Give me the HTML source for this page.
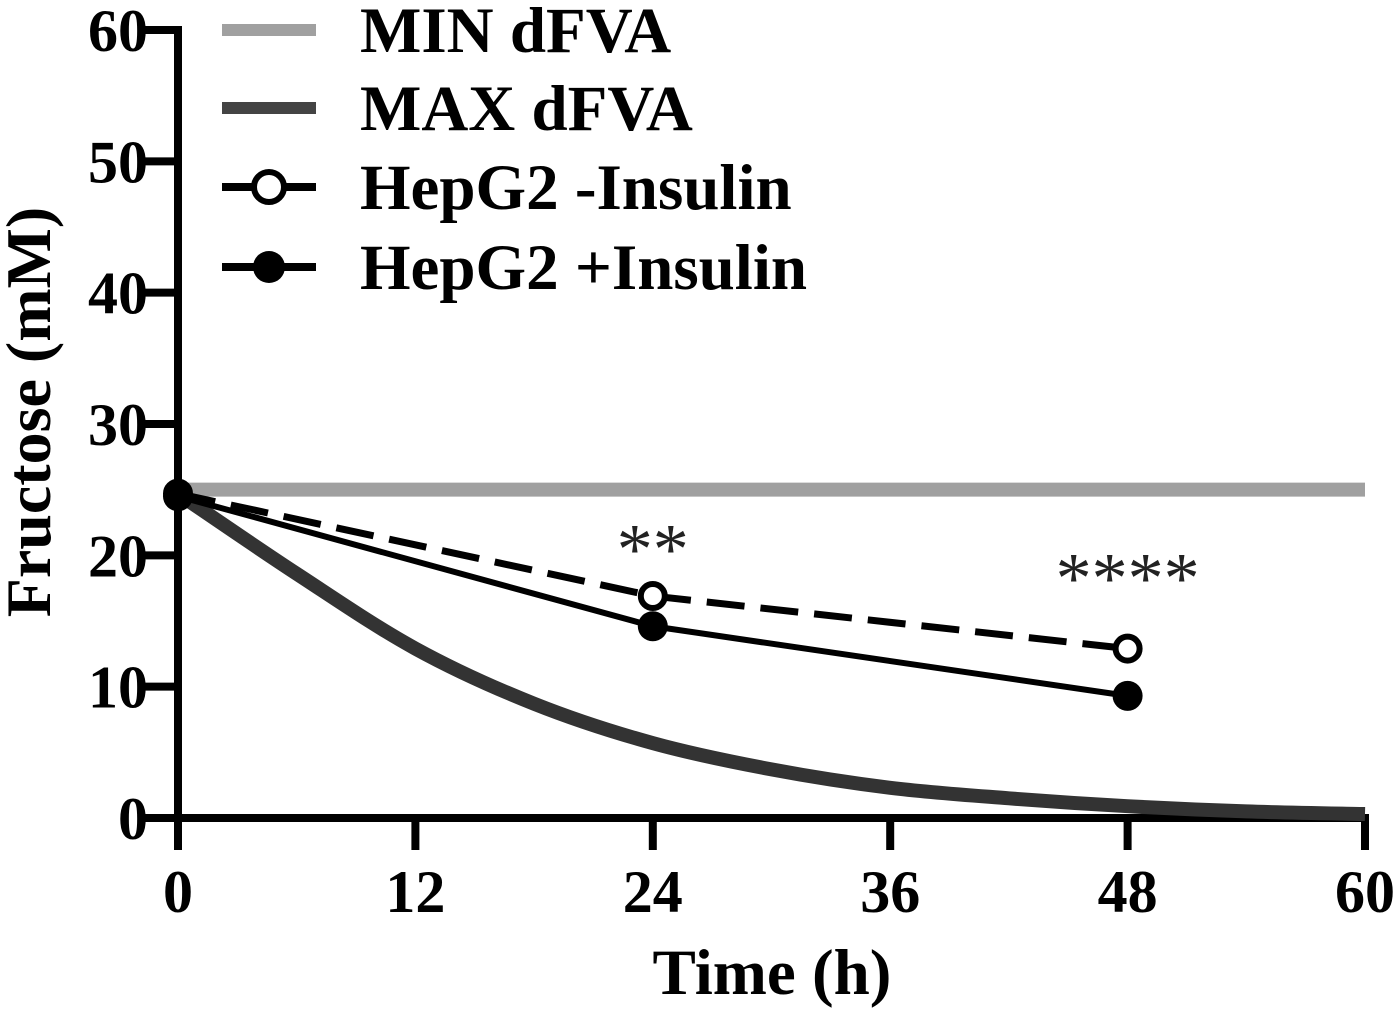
<!DOCTYPE html>
<html><head><meta charset="utf-8"><style>
html,body{margin:0;padding:0;background:#fff;}
svg{display:block;font-family:"Liberation Serif",serif;}
</style></head><body>
<svg id="chart" width="1400" height="1019" viewBox="0 0 1400 1019"></svg>
<script>
const xTicks=[0,12,24,36,48,60];
const yTicks=[0,10,20,30,40,50,60];
const minTimes=[0,60];
const minVals=[25,25];
const maxTimes=[0,6,12,18,24,30,36,42,48,54,60];
const maxVals=[24.7,18.6,12.9,8.7,5.7,3.7,2.3,1.5,0.9,0.5,0.3];
const hepTimes=[0,24,48];
const minusIns=[24.7,16.9,12.9];
const plusIns=[24.5,14.6,9.3];
const legendLabels=["MIN dFVA","MAX dFVA","HepG2 -Insulin","HepG2 +Insulin"];
const sigLabels=["**","****"];
const sigTimes=[24,48];
const sigVals=[18.6,16.4];

const NS="http://www.w3.org/2000/svg";
const svg=document.getElementById('chart');
const X=t=>178+t*(1365-178)/60;
const Y=v=>818-v*(818-30)/60;
function mk(tag,attrs,parent){const e=document.createElementNS(NS,tag);for(const k in attrs)e.setAttribute(k,attrs[k]);(parent||svg).appendChild(e);return e;}
function pts(ts,vs){return ts.map((t,i)=>X(t)+','+Y(vs[i])).join(' ');}

let e=mk('line',{x1:178,y1:26,x2:178,y2:850,stroke:'#000','stroke-width':8});


e=mk('line',{x1:174,y1:818,x2:1369,y2:818,stroke:'#000','stroke-width':8});


yTicks.forEach(v=>{
  let t=mk('line',{x1:145,y1:Y(v),x2:178,y2:Y(v),stroke:'#000','stroke-width':8});
  
  
  let l=mk('text',{x:148,y:Y(v)+21,'text-anchor':'end','font-size':60,'font-weight':'bold'});
  l.textContent=v;
  
  
});
xTicks.forEach(v=>{
  let t=mk('line',{x1:X(v),y1:818,x2:X(v),y2:850,stroke:'#000','stroke-width':8});
  
  
  let l=mk('text',{x:X(v),y:912,'text-anchor':'middle','font-size':60,'font-weight':'bold'});
  l.textContent=v;
  
  
});
e=mk('text',{x:772,y:994,'text-anchor':'middle','font-size':65,'font-weight':'bold'});
e.textContent='Time (h)';


e=mk('text',{x:0,y:0,'text-anchor':'middle','font-size':64,'font-weight':'bold',transform:'translate(50,412) rotate(-90)'});
e.textContent='Fructose (mM)';



e=mk('polyline',{points:pts(minTimes,minVals),fill:'none',stroke:'#a0a0a0','stroke-width':14});


let d='M'+X(maxTimes[0])+','+Y(maxVals[0]);
for(let i=0;i<maxTimes.length-1;i++){
  const p0=i>0?i-1:i,p3=i+2<maxTimes.length?i+2:i+1;
  const x0=X(maxTimes[p0]),y0=Y(maxVals[p0]),x1=X(maxTimes[i]),y1=Y(maxVals[i]),x2=X(maxTimes[i+1]),y2=Y(maxVals[i+1]),x3=X(maxTimes[p3]),y3=Y(maxVals[p3]);
  d+=` C${x1+(x2-x0)/6},${y1+(y2-y0)/6} ${x2-(x3-x1)/6},${y2-(y3-y1)/6} ${x2},${y2}`;
}
e=mk('path',{d:d,fill:'none',stroke:'#333','stroke-width':14});


e=mk('polyline',{points:pts(hepTimes,minusIns),fill:'none',stroke:'#000','stroke-width':7,'stroke-dasharray':'38,16'});


e=mk('polyline',{points:pts(hepTimes,plusIns),fill:'none',stroke:'#000','stroke-width':6});


hepTimes.forEach((t,i)=>{
  let c=mk('circle',{cx:X(t),cy:Y(minusIns[i]),r:12,fill:'#fff',stroke:'#000','stroke-width':6});
  
  
  let f=mk('circle',{cx:X(t),cy:Y(plusIns[i]),r:15,fill:'#000'});
  
  
});
sigLabels.forEach((s,i)=>{
  let t=mk('text',{x:X(sigTimes[i]),y:Y(sigVals[i]),'text-anchor':'middle','font-size':72,fill:'#222'});
  t.textContent=s;
  
  
});

const ly=[30,108,187,267];
legendLabels.forEach((lab,i)=>{
  const g=mk('g',{});
  
  
  const y=ly[i];
  if(i===0) mk('line',{x1:222,y1:y,x2:316,y2:y,stroke:'#a0a0a0','stroke-width':12},g);
  if(i===1) mk('line',{x1:222,y1:y,x2:316,y2:y,stroke:'#444','stroke-width':12},g);
  if(i===2){mk('line',{x1:222,y1:y,x2:316,y2:y,stroke:'#000','stroke-width':8},g);mk('circle',{cx:269,cy:y,r:15,fill:'#fff',stroke:'#000','stroke-width':6},g);}
  if(i===3){mk('line',{x1:222,y1:y,x2:316,y2:y,stroke:'#000','stroke-width':8},g);mk('circle',{cx:269,cy:y,r:16,fill:'#000'},g);}
  const t=mk('text',{x:360,y:y+22,'font-size':65,'font-weight':'bold'},g);
  t.textContent=lab;
});
</script>
</body></html>
